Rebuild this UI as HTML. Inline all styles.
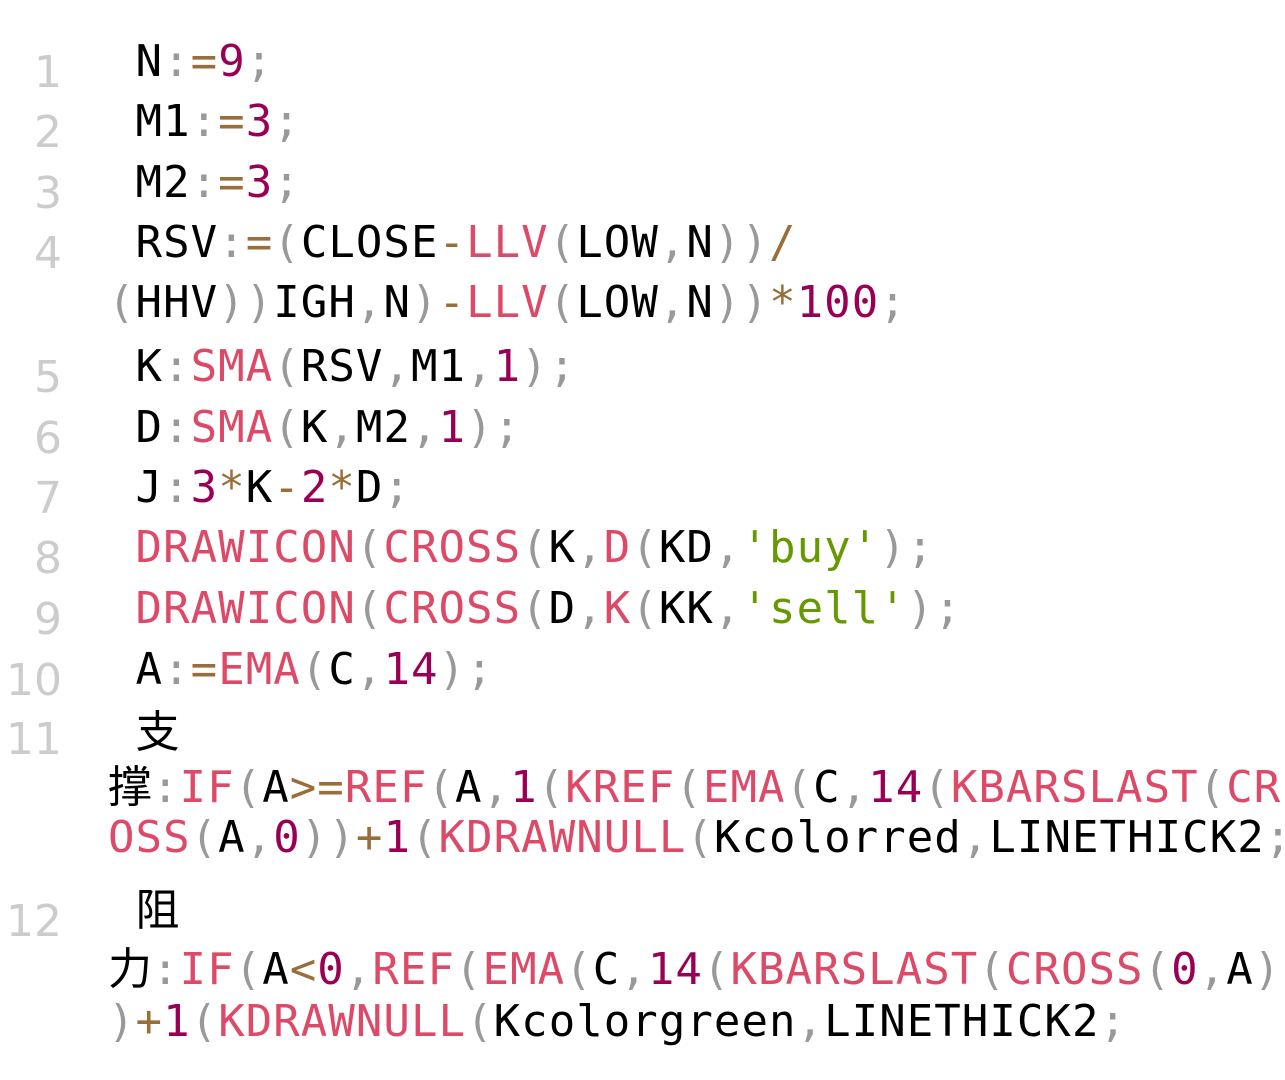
<!DOCTYPE html>
<html><head><meta charset="utf-8"><style>
body{margin:0;width:1285px;height:1080px;background:#fff;position:relative;overflow:hidden}
.l{position:absolute;left:108px;white-space:pre;font-family:"DejaVu Sans Mono","Noto Sans CJK SC",monospace;font-size:44px;line-height:44px;letter-spacing:1.05px;color:#000}
.n{position:absolute;left:0;width:62px;text-align:right;font-family:"DejaVu Sans","Liberation Sans",sans-serif;font-size:44px;line-height:44px;color:#ccc}
.f{color:#dd4a68}.d{color:#990055}.o{color:#9a6e3a}.p{color:#999}.s{color:#669900}
.c{font-family:"Noto Sans CJK SC",sans-serif;letter-spacing:0}
</style></head><body>
<div class="n" style="top:51px">1</div>
<div class="n" style="top:111px">2</div>
<div class="n" style="top:172px">3</div>
<div class="n" style="top:232px">4</div>
<div class="n" style="top:356px">5</div>
<div class="n" style="top:417px">6</div>
<div class="n" style="top:477px">7</div>
<div class="n" style="top:537px">8</div>
<div class="n" style="top:598px">9</div>
<div class="n" style="top:659px">10</div>
<div class="n" style="top:718px">11</div>
<div class="n" style="top:900px">12</div>

<div class="l" style="top:40px"> N<span class="p">:</span><span class="o">=</span><span class="d">9</span><span class="p">;</span></div>
<div class="l" style="top:100px"> M1<span class="p">:</span><span class="o">=</span><span class="d">3</span><span class="p">;</span></div>
<div class="l" style="top:161px"> M2<span class="p">:</span><span class="o">=</span><span class="d">3</span><span class="p">;</span></div>
<div class="l" style="top:221px"> RSV<span class="p">:</span><span class="o">=</span><span class="p">(</span>CLOSE<span class="o">-</span><span class="f">LLV</span><span class="p">(</span>LOW<span class="p">,</span>N<span class="p">))</span><span class="o">/</span></div>
<div class="l" style="top:281px"><span class="p">(</span>HHV<span class="p">))</span>IGH<span class="p">,</span>N<span class="p">)</span><span class="o">-</span><span class="f">LLV</span><span class="p">(</span>LOW<span class="p">,</span>N<span class="p">))</span><span class="o">*</span><span class="d">100</span><span class="p">;</span></div>
<div class="l" style="top:345px"> K<span class="p">:</span><span class="f">SMA</span><span class="p">(</span>RSV<span class="p">,</span>M1<span class="p">,</span><span class="d">1</span><span class="p">);</span></div>
<div class="l" style="top:406px"> D<span class="p">:</span><span class="f">SMA</span><span class="p">(</span>K<span class="p">,</span>M2<span class="p">,</span><span class="d">1</span><span class="p">);</span></div>
<div class="l" style="top:466px"> J<span class="p">:</span><span class="d">3</span><span class="o">*</span>K<span class="o">-</span><span class="d">2</span><span class="o">*</span>D<span class="p">;</span></div>
<div class="l" style="top:526px"> <span class="f">DRAWICON</span><span class="p">(</span><span class="f">CROSS</span><span class="p">(</span>K<span class="p">,</span><span class="f">D</span><span class="p">(</span>KD<span class="p">,</span><span class="s">'buy'</span><span class="p">);</span></div>
<div class="l" style="top:587px"> <span class="f">DRAWICON</span><span class="p">(</span><span class="f">CROSS</span><span class="p">(</span>D<span class="p">,</span><span class="f">K</span><span class="p">(</span>KK<span class="p">,</span><span class="s">'sell'</span><span class="p">);</span></div>
<div class="l" style="top:648px"> A<span class="p">:</span><span class="o">=</span><span class="f">EMA</span><span class="p">(</span>C<span class="p">,</span><span class="d">14</span><span class="p">);</span></div>
<div class="l" style="top:706px"> <span class="c">支</span></div>
<div class="l" style="top:761px"><span class="c">撑</span><span class="p">:</span><span class="f">IF</span><span class="p">(</span>A<span class="o">&gt;=</span><span class="f">REF</span><span class="p">(</span>A<span class="p">,</span><span class="d">1</span><span class="p">(</span><span class="f">KREF</span><span class="p">(</span><span class="f">EMA</span><span class="p">(</span>C<span class="p">,</span><span class="d">14</span><span class="p">(</span><span class="f">KBARSLAST</span><span class="p">(</span><span class="f">CR</span></div>
<div class="l" style="top:816px"><span class="f">OSS</span><span class="p">(</span>A<span class="p">,</span><span class="d">0</span><span class="p">))</span><span class="o">+</span><span class="d">1</span><span class="p">(</span><span class="f">KDRAWNULL</span><span class="p">(</span>Kcolorred<span class="p">,</span>LINETHICK2<span class="p">;</span></div>
<div class="l" style="top:884px"> <span class="c">阻</span></div>
<div class="l" style="top:943px"><span class="c">力</span><span class="p">:</span><span class="f">IF</span><span class="p">(</span>A<span class="o">&lt;</span><span class="d">0</span><span class="p">,</span><span class="f">REF</span><span class="p">(</span><span class="f">EMA</span><span class="p">(</span>C<span class="p">,</span><span class="d">14</span><span class="p">(</span><span class="f">KBARSLAST</span><span class="p">(</span><span class="f">CROSS</span><span class="p">(</span><span class="d">0</span><span class="p">,</span>A<span class="p">)</span></div>
<div class="l" style="top:1000px"><span class="p">)</span><span class="o">+</span><span class="d">1</span><span class="p">(</span><span class="f">KDRAWNULL</span><span class="p">(</span>Kcolorgreen<span class="p">,</span>LINETHICK2<span class="p">;</span></div>
</body></html>
